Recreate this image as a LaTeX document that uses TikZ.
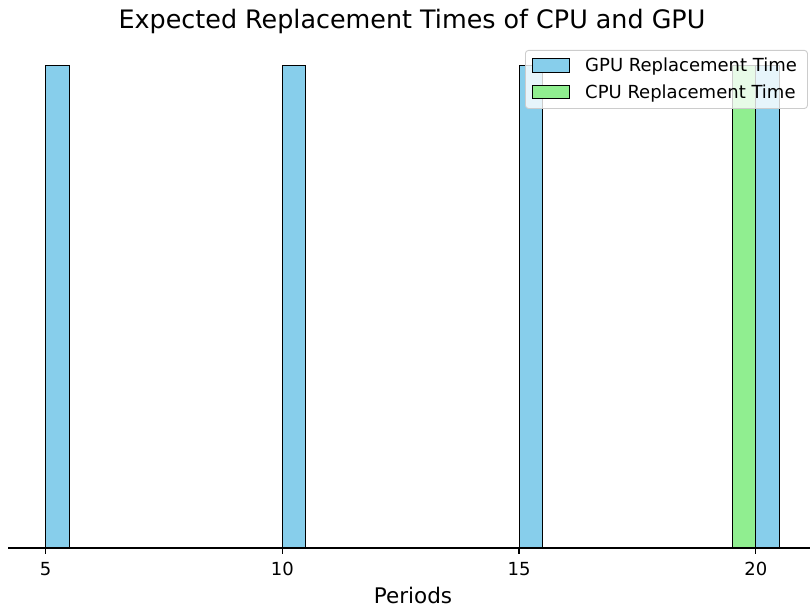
\documentclass[tikz,border=0pt]{standalone}
\usepackage{fontspec}
\setmainfont{DejaVu Sans}
\definecolor{skyblue}{HTML}{87CEEB}
\definecolor{lightgreen}{HTML}{90EE90}
\definecolor{legendedge}{HTML}{CCCCCC}
\begin{document}
\begin{tikzpicture}[x=1pt,y=-1pt,
  gpubar/.style={fill=skyblue,draw=black,line width=0.9pt},
  cpubar/.style={fill=lightgreen,draw=black,line width=0.9pt},
  ticklabel/.style={anchor=base,font=\fontsize{18}{18}\selectfont,inner sep=0pt},
  tickmark/.style={line width=1.3pt},
  legtext/.style={anchor=base west,font=\fontsize{18}{18}\selectfont,inner sep=0pt}]
\useasboundingbox (0,0) rectangle (810,610);
% data-to-pixel mapping along the period axis
\pgfmathsetmacro{\xo}{45.5}
\pgfmathsetmacro{\sx}{47.35}
\def\top{65}
\def\base{548}
% GPU replacement bars
\foreach \p/\n in {5/g1,10/g2,15/g3,20/g4}{
  \draw[gpubar] ({\xo+(\p-5)*\sx},\base) rectangle ({\xo+(\p+0.5-5)*\sx},\top);
}
% CPU replacement bar
\draw[cpubar] ({\xo+(19.5-5)*\sx},\base) rectangle ({\xo+(20-5)*\sx},\top);
% x axis
\coordinate (axl) at (8,\base);
\coordinate (axr) at (810,\base);
\draw[line width=1.3pt] (axl) -- (axr);
\foreach \p in {5,10,15,20}{
  \coordinate (t\p) at ({\xo+(\p-5)*\sx},\base);
  \draw[tickmark] (t\p) -- ++(0,6.3);
  \node[ticklabel] (l\p) at ({\xo+(\p-5)*\sx},575) {\p};
}
\node[anchor=base,font=\fontsize{21.5}{21.5}\selectfont,inner sep=0pt] (xlabel) at (413,603) {Periods};
\node[anchor=base,font=\fontsize{25.4}{25.4}\selectfont,inner sep=0pt] (title) at (412,29) {Expected Replacement Times of CPU and GPU};
% legend
\node[draw=legendedge,fill=white,fill opacity=0.8,rounded corners=3pt,line width=0.9pt,
      minimum width=282pt,minimum height=58pt,anchor=north west,inner sep=0pt] (legend) at (525,50) {};
\draw[gpubar] (532,58) rectangle (569,72);
\draw[cpubar] (532,85) rectangle (569,98);
\node[legtext] (lg) at (585,71) {GPU Replacement Time};
\node[legtext] (lc) at (585,98) {CPU Replacement Time};
\end{tikzpicture}
\end{document}
